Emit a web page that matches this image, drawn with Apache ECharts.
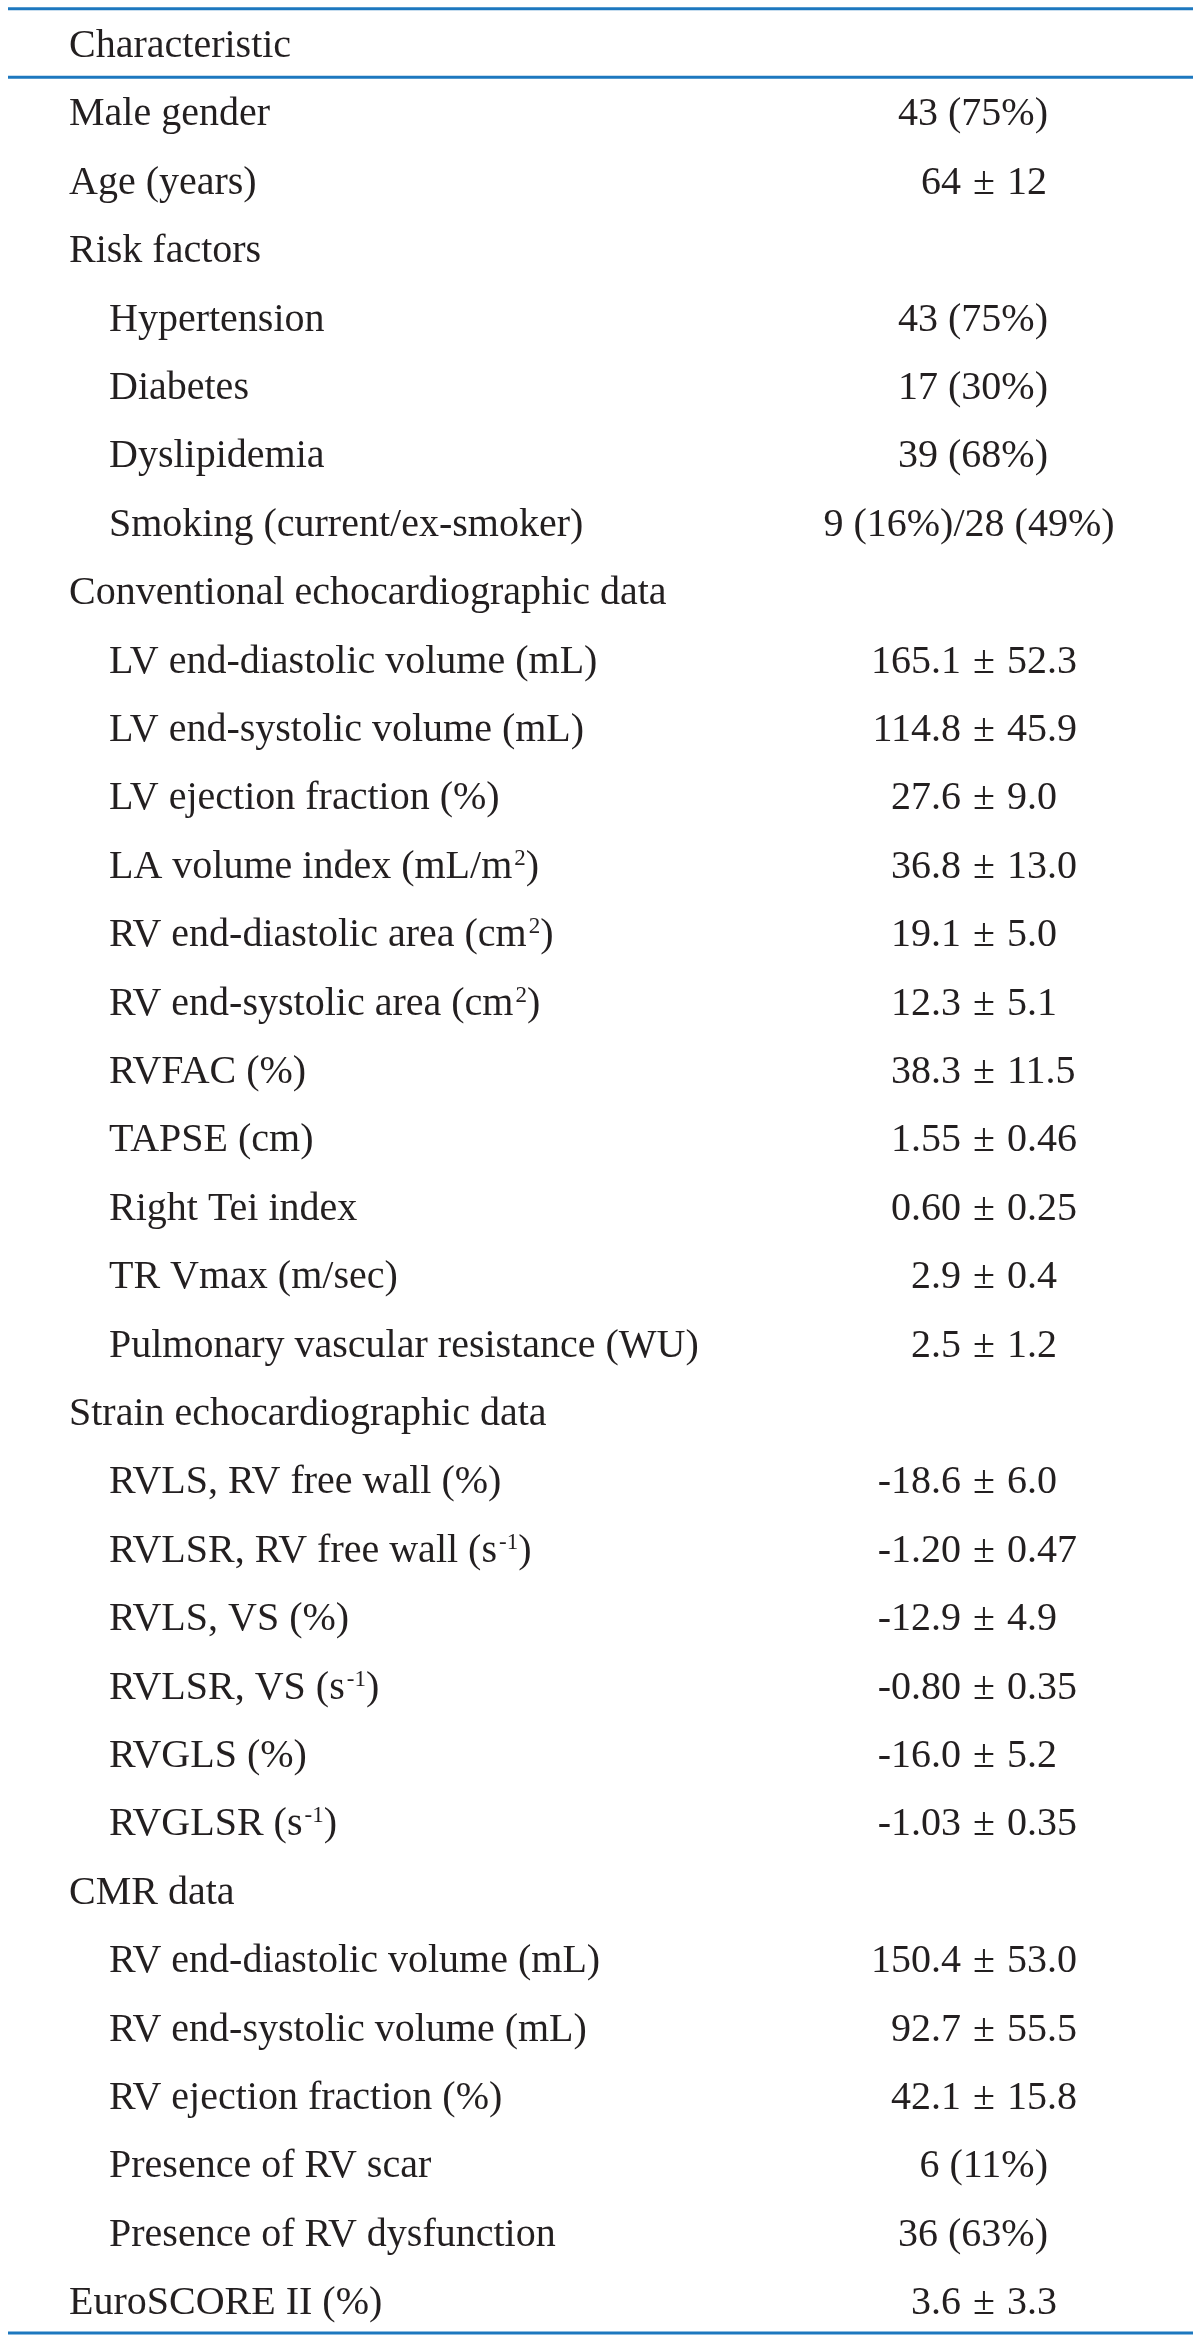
<!DOCTYPE html>
<html>
<head>
<meta charset="utf-8">
<script src="https://cdn.jsdelivr.net/npm/echarts@6/dist/echarts.min.js"></script>
<style>
  html, body { margin: 0; padding: 0; background: #ffffff; }
  #chart { width: 1200px; height: 2343px; }
</style>
</head>
<body>
<div id="chart"></div>
<script>
// ---------- data ----------
const headerLabel = 'Characteristic';

const rowLabels = [
  'Male gender',
  'Age (years)',
  'Risk factors',
  'Hypertension',
  'Diabetes',
  'Dyslipidemia',
  'Smoking (current/ex-smoker)',
  'Conventional echocardiographic data',
  'LV end-diastolic volume (mL)',
  'LV end-systolic volume (mL)',
  'LV ejection fraction (%)',
  'LA volume index (mL/m{sup|2})',
  'RV end-diastolic area (cm{sup|2})',
  'RV end-systolic area (cm{sup|2})',
  'RVFAC (%)',
  'TAPSE (cm)',
  'Right Tei index',
  'TR Vmax (m/sec)',
  'Pulmonary vascular resistance (WU)',
  'Strain echocardiographic data',
  'RVLS, RV free wall (%)',
  'RVLSR, RV free wall (s{sup|-1})',
  'RVLS, VS (%)',
  'RVLSR, VS (s{sup|-1})',
  'RVGLS (%)',
  'RVGLSR (s{sup|-1})',
  'CMR data',
  'RV end-diastolic volume (mL)',
  'RV end-systolic volume (mL)',
  'RV ejection fraction (%)',
  'Presence of RV scar',
  'Presence of RV dysfunction',
  'EuroSCORE II (%)'
];

const rowIndent = [
  0, 0, 0, 1, 1, 1, 1,
  0, 1, 1, 1, 1, 1, 1, 1, 1, 1, 1, 1,
  0, 1, 1, 1, 1, 1, 1,
  0, 1, 1, 1, 1, 1,
  0
];

const rowValues = [
  '43 (75%)',
  '64 ± 12',
  '',
  '43 (75%)',
  '17 (30%)',
  '39 (68%)',
  '9 (16%)/28 (49%)',
  '',
  '165.1 ± 52.3',
  '114.8 ± 45.9',
  '27.6 ± 9.0',
  '36.8 ± 13.0',
  '19.1 ± 5.0',
  '12.3 ± 5.1',
  '38.3 ± 11.5',
  '1.55 ± 0.46',
  '0.60 ± 0.25',
  '2.9 ± 0.4',
  '2.5 ± 1.2',
  '',
  '-18.6 ± 6.0',
  '-1.20 ± 0.47',
  '-12.9 ± 4.9',
  '-0.80 ± 0.35',
  '-16.0 ± 5.2',
  '-1.03 ± 0.35',
  '',
  '150.4 ± 53.0',
  '92.7 ± 55.5',
  '42.1 ± 15.8',
  '6 (11%)',
  '36 (63%)',
  '3.6 ± 3.3'
];

// ---------- layout ----------
const FONT = "'Liberation Serif', 'DejaVu Serif', serif";
const FS = 40;
const TEXT_COLOR = '#231f20';
const RULE_COLOR = '#1d78bf';
const LABEL_X = 69;
const INDENT = 40;
const PM_X = 984;      // x of the ± sign
const PM_GAP = 23;
const RIGHT_X = 1048;  // right edge of "n (%)" values
const CENTER_X = 969;
const BASELINE_SHIFT = 13; // baseline offset from text middle
const ROW0 = 59.5, ROW_H = 68.4, H = 2343;
const yMin = -ROW0 / ROW_H;
const yMax = yMin + H / ROW_H;

const allLabels = [headerLabel].concat(rowLabels);
const allIndent = [0].concat(rowIndent);
const allValues = [''].concat(rowValues);

function textEl(text, x, y, align, rich) {
  const style = {
    text: text, x: x, y: y,
    fill: TEXT_COLOR,
    font: FS + 'px ' + FONT,
    fontSize: FS, fontFamily: FONT,
    align: align, verticalAlign: 'middle'
  };
  if (rich) {
    style.rich = {
      sup: { fontSize: 23, fontFamily: FONT, fill: TEXT_COLOR, verticalAlign: 'top', padding: [0, 0, 0, 2] }
    };
  }
  return { type: 'text', style: style, silent: true };
}

const chart = echarts.init(document.getElementById('chart'), null, { renderer: 'canvas' });

chart.setOption({
  animation: false,
  backgroundColor: '#ffffff',
  grid: { left: 0, right: 0, top: 0, bottom: 0 },
  xAxis: { type: 'value', min: 0, max: 1200, show: false },
  yAxis: { type: 'value', min: yMin, max: yMax, inverse: true, show: false },
  graphic: [
    { type: 'rect', shape: { x: 8, y: 7.3, width: 1185, height: 3 }, style: { fill: RULE_COLOR }, silent: true },
    { type: 'rect', shape: { x: 8, y: 75.8, width: 1185, height: 3 }, style: { fill: RULE_COLOR }, silent: true },
    { type: 'rect', shape: { x: 8, y: 2331.5, width: 1185, height: 3 }, style: { fill: RULE_COLOR }, silent: true }
  ],
  series: [{
    type: 'custom',
    coordinateSystem: 'cartesian2d',
    clip: false,
    silent: true,
    data: allLabels.map((_, i) => [0, i]),
    renderItem: function (params, api) {
      const i = params.dataIndex;
      const base = api.coord([0, api.value(1)]);
      const y = base[1] - BASELINE_SHIFT;
      const children = [];
      const lbl = allLabels[i];
      children.push(textEl(lbl, LABEL_X + INDENT * allIndent[i], y, 'left', lbl.indexOf('{sup|') >= 0));
      const v = allValues[i];
      if (v) {
        if (v.indexOf(' ± ') >= 0) {
          const parts = v.split(' ± ');
          children.push(textEl(parts[0], PM_X - PM_GAP, y, 'right'));
          children.push(textEl('±', PM_X, y, 'center'));
          children.push(textEl(parts[1], PM_X + PM_GAP, y, 'left'));
        } else if (v.indexOf('/') >= 0) {
          children.push(textEl(v, CENTER_X, y, 'center'));
        } else {
          children.push(textEl(v, RIGHT_X, y, 'right'));
        }
      }
      return { type: 'group', children: children };
    }
  }]
});
</script>
</body>
</html>
